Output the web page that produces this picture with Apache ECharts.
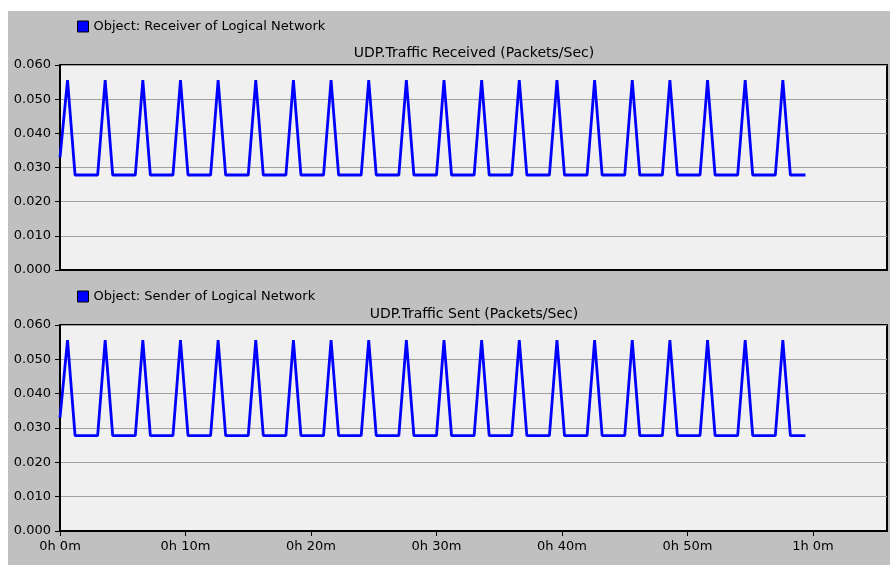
<!DOCTYPE html>
<html>
<head>
<meta charset="utf-8">
<title>UDP Traffic</title>
<script src="https://cdn.jsdelivr.net/npm/echarts@6/dist/echarts.min.js"></script>
<style>
  html, body { margin: 0; padding: 0; background: #ffffff; }
  #chart { width: 890px; height: 565px; }
</style>
</head>
<body>
<div id="chart"></div>
<script>
// Sample times in minutes
const sampleTimesMin = [
  0.0, 0.6, 1.2, 1.8, 2.4, 3.0, 3.6, 4.2, 4.8, 5.4,
  6.0, 6.6, 7.2, 7.8, 8.4, 9.0, 9.6, 10.2, 10.8, 11.4,
  12.0, 12.6, 13.2, 13.8, 14.4, 15.0, 15.6, 16.2, 16.8, 17.4,
  18.0, 18.6, 19.2, 19.8, 20.4, 21.0, 21.6, 22.2, 22.8, 23.4,
  24.0, 24.6, 25.2, 25.8, 26.4, 27.0, 27.6, 28.2, 28.8, 29.4,
  30.0, 30.6, 31.2, 31.8, 32.4, 33.0, 33.6, 34.2, 34.8, 35.4,
  36.0, 36.6, 37.2, 37.8, 38.4, 39.0, 39.6, 40.2, 40.8, 41.4,
  42.0, 42.6, 43.2, 43.8, 44.4, 45.0, 45.6, 46.2, 46.8, 47.4,
  48.0, 48.6, 49.2, 49.8, 50.4, 51.0, 51.6, 52.2, 52.8, 53.4,
  54.0, 54.6, 55.2, 55.8, 56.4, 57.0, 57.6, 58.2, 58.8, 59.4
];

// UDP Traffic Received (packets/sec)
const receivedValues = [
  0.0330,
  0.0556, 0.0278, 0.0278, 0.0278, 0.0278,
  0.0556, 0.0278, 0.0278, 0.0278, 0.0278,
  0.0556, 0.0278, 0.0278, 0.0278, 0.0278,
  0.0556, 0.0278, 0.0278, 0.0278, 0.0278,
  0.0556, 0.0278, 0.0278, 0.0278, 0.0278,
  0.0556, 0.0278, 0.0278, 0.0278, 0.0278,
  0.0556, 0.0278, 0.0278, 0.0278, 0.0278,
  0.0556, 0.0278, 0.0278, 0.0278, 0.0278,
  0.0556, 0.0278, 0.0278, 0.0278, 0.0278,
  0.0556, 0.0278, 0.0278, 0.0278, 0.0278,
  0.0556, 0.0278, 0.0278, 0.0278, 0.0278,
  0.0556, 0.0278, 0.0278, 0.0278, 0.0278,
  0.0556, 0.0278, 0.0278, 0.0278, 0.0278,
  0.0556, 0.0278, 0.0278, 0.0278, 0.0278,
  0.0556, 0.0278, 0.0278, 0.0278, 0.0278,
  0.0556, 0.0278, 0.0278, 0.0278, 0.0278,
  0.0556, 0.0278, 0.0278, 0.0278, 0.0278,
  0.0556, 0.0278, 0.0278, 0.0278, 0.0278,
  0.0556, 0.0278, 0.0278, 0.0278, 0.0278,
  0.0556, 0.0278, 0.0278, 0.0278
];

// UDP Traffic Sent (packets/sec)
const sentValues = [
  0.0330,
  0.0556, 0.0278, 0.0278, 0.0278, 0.0278,
  0.0556, 0.0278, 0.0278, 0.0278, 0.0278,
  0.0556, 0.0278, 0.0278, 0.0278, 0.0278,
  0.0556, 0.0278, 0.0278, 0.0278, 0.0278,
  0.0556, 0.0278, 0.0278, 0.0278, 0.0278,
  0.0556, 0.0278, 0.0278, 0.0278, 0.0278,
  0.0556, 0.0278, 0.0278, 0.0278, 0.0278,
  0.0556, 0.0278, 0.0278, 0.0278, 0.0278,
  0.0556, 0.0278, 0.0278, 0.0278, 0.0278,
  0.0556, 0.0278, 0.0278, 0.0278, 0.0278,
  0.0556, 0.0278, 0.0278, 0.0278, 0.0278,
  0.0556, 0.0278, 0.0278, 0.0278, 0.0278,
  0.0556, 0.0278, 0.0278, 0.0278, 0.0278,
  0.0556, 0.0278, 0.0278, 0.0278, 0.0278,
  0.0556, 0.0278, 0.0278, 0.0278, 0.0278,
  0.0556, 0.0278, 0.0278, 0.0278, 0.0278,
  0.0556, 0.0278, 0.0278, 0.0278, 0.0278,
  0.0556, 0.0278, 0.0278, 0.0278, 0.0278,
  0.0556, 0.0278, 0.0278, 0.0278, 0.0278,
  0.0556, 0.0278, 0.0278, 0.0278
];

const xTickLabels = ['0h 0m', '0h 10m', '0h 20m', '0h 30m', '0h 40m', '0h 50m', '1h 0m'];
const yTickLabels = ['0.000', '0.010', '0.020', '0.030', '0.040', '0.050', '0.060'];

const receivedName = 'Object: Receiver of Logical Network';
const sentName = 'Object: Sender of Logical Network';
const receivedTitle = 'UDP.Traffic Received (Packets/Sec)';
const sentTitle = 'UDP.Traffic Sent (Packets/Sec)';

const FONT = '"DejaVu Sans", sans-serif';
const chart = echarts.init(document.getElementById('chart'));

function pairs(values) {
  return values.map((v, i) => [sampleTimesMin[i], v]);
}

function yAxisCfg(gridIndex) {
  return {
    type: 'value', gridIndex: gridIndex, min: 0, max: 0.06, interval: 0.01,
    axisLine: { show: true, lineStyle: { color: '#000', width: 2 } },
    axisTick: { show: true, length: 5, lineStyle: { color: '#000', width: 1 } },
    axisLabel: {
      margin: 9, color: '#000', fontSize: 13, fontFamily: FONT,
      formatter: v => yTickLabels[Math.round(v / 0.01)]
    },
    splitLine: { show: true, lineStyle: { color: '#a0a0a0', width: 1 } }
  };
}

function xAxisCfg(gridIndex, showLabels) {
  return {
    type: 'value', gridIndex: gridIndex, min: 0, max: 65.9, interval: 10,
    axisLine: { show: true, onZero: false, lineStyle: { color: '#000', width: 2 } },
    axisTick: { show: showLabels, length: 5, lineStyle: { color: '#000', width: 1 } },
    axisLabel: {
      show: showLabels, margin: 9, color: '#000', fontSize: 13, fontFamily: FONT,
      showMaxLabel: false,
      formatter: v => xTickLabels[Math.round(v / 10)] || ''
    },
    splitLine: { show: false }
  };
}

function legendCfg(name, top) {
  return {
    data: [name], left: 72, top: top, orient: 'horizontal',
    icon: 'rect', itemWidth: 11, itemHeight: 11,
    itemStyle: { borderColor: '#000', borderWidth: 1 },
    textStyle: { color: '#000', fontSize: 13, fontFamily: FONT },
    selectedMode: false
  };
}

const option = {
  animation: false,
  backgroundColor: '#ffffff',
  graphic: [
    { type: 'rect', z: -100, silent: true,
      shape: { x: 8, y: 11, width: 882, height: 554 },
      style: { fill: '#c0c0c0' } },
    { type: 'text', x: 474, y: 53, silent: true,
      style: { text: receivedTitle, fill: '#000', font: '14px ' + FONT,
               align: 'center', verticalAlign: 'middle',
               textAlign: 'center', textVerticalAlign: 'middle' } },
    { type: 'text', x: 474, y: 314, silent: true,
      style: { text: sentTitle, fill: '#000', font: '14px ' + FONT,
               align: 'center', verticalAlign: 'middle',
               textAlign: 'center', textVerticalAlign: 'middle' } }
  ],
  legend: [legendCfg(receivedName, 15), legendCfg(sentName, 285)],
  grid: [
    { left: 60, top: 65, width: 827, height: 205, show: true,
      backgroundColor: '#f0f0f0', borderColor: '#000', borderWidth: 2 },
    { left: 60, top: 325, width: 827, height: 206, show: true,
      backgroundColor: '#f0f0f0', borderColor: '#000', borderWidth: 2 }
  ],
  xAxis: [xAxisCfg(0, false), xAxisCfg(1, true)],
  yAxis: [yAxisCfg(0), yAxisCfg(1)],
  series: [
    { name: receivedName, type: 'line', xAxisIndex: 0, yAxisIndex: 0,
      data: pairs(receivedValues), showSymbol: false, symbol: 'none',
      color: '#0000ff', lineStyle: { color: '#0000ff', width: 2.8 } },
    { name: sentName, type: 'line', xAxisIndex: 1, yAxisIndex: 1,
      data: pairs(sentValues), showSymbol: false, symbol: 'none',
      color: '#0000ff', lineStyle: { color: '#0000ff', width: 2.8 } }
  ]
};

chart.setOption(option);
</script>
</body>
</html>
